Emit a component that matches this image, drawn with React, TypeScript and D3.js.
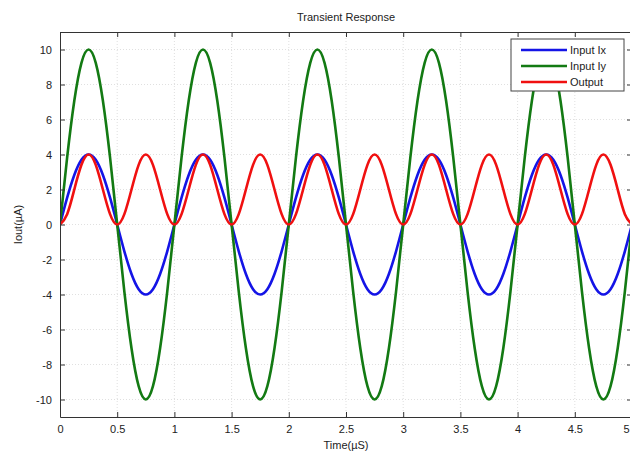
import * as d3 from "d3";
import { useEffect, useRef } from "react";

// samples every 1/16 µs (one period per line)
const inputIx = [
  0, 1.53, 2.83, 3.7, 4, 3.7, 2.83, 1.53, 0, -1.53, -2.83, -3.7, -4, -3.7, -2.83, -1.53,
  0, 1.53, 2.83, 3.7, 4, 3.7, 2.83, 1.53, 0, -1.53, -2.83, -3.7, -4, -3.7, -2.83, -1.53,
  0, 1.53, 2.83, 3.7, 4, 3.7, 2.83, 1.53, 0, -1.53, -2.83, -3.7, -4, -3.7, -2.83, -1.53,
  0, 1.53, 2.83, 3.7, 4, 3.7, 2.83, 1.53, 0, -1.53, -2.83, -3.7, -4, -3.7, -2.83, -1.53,
  0, 1.53, 2.83, 3.7, 4, 3.7, 2.83, 1.53, 0, -1.53, -2.83, -3.7, -4, -3.7, -2.83, -1.53,
  0,
];
const inputIy = [
  0, 3.83, 7.07, 9.24, 10, 9.24, 7.07, 3.83, 0, -3.83, -7.07, -9.24, -10, -9.24, -7.07, -3.83,
  0, 3.83, 7.07, 9.24, 10, 9.24, 7.07, 3.83, 0, -3.83, -7.07, -9.24, -10, -9.24, -7.07, -3.83,
  0, 3.83, 7.07, 9.24, 10, 9.24, 7.07, 3.83, 0, -3.83, -7.07, -9.24, -10, -9.24, -7.07, -3.83,
  0, 3.83, 7.07, 9.24, 10, 9.24, 7.07, 3.83, 0, -3.83, -7.07, -9.24, -10, -9.24, -7.07, -3.83,
  0, 3.83, 7.07, 9.24, 10, 9.24, 7.07, 3.83, 0, -3.83, -7.07, -9.24, -10, -9.24, -7.07, -3.83,
  0,
];
const output = [
  0, 0.59, 2, 3.41, 4, 3.41, 2, 0.59, 0, 0.59, 2, 3.41, 4, 3.41, 2, 0.59,
  0, 0.59, 2, 3.41, 4, 3.41, 2, 0.59, 0, 0.59, 2, 3.41, 4, 3.41, 2, 0.59,
  0, 0.59, 2, 3.41, 4, 3.41, 2, 0.59, 0, 0.59, 2, 3.41, 4, 3.41, 2, 0.59,
  0, 0.59, 2, 3.41, 4, 3.41, 2, 0.59, 0, 0.59, 2, 3.41, 4, 3.41, 2, 0.59,
  0, 0.59, 2, 3.41, 4, 3.41, 2, 0.59, 0, 0.59, 2, 3.41, 4, 3.41, 2, 0.59,
  0,
];
const timeStep = 0.0625;

const xTicks = [0, 0.5, 1, 1.5, 2, 2.5, 3, 3.5, 4, 4.5, 5];
const yTicks = [-10, -8, -6, -4, -2, 0, 2, 4, 6, 8, 10];

const seriesNames = ["Input Ix", "Input Iy", "Output"];
const seriesColors = ["#1414e6", "#137a13", "#f01010"];

const W = 630;
const H = 452;
const margin = { top: 32, right: -2, bottom: 35, left: 60 };
const FONT = "'Liberation Sans', Arial, sans-serif";

export default function App() {
  const ref = useRef<SVGSVGElement>(null);

  useEffect(() => {
    const svg = d3.select(ref.current);
    svg.selectAll("*").remove();

    const x0 = margin.left;
    const x1 = W - margin.right;
    const y0 = margin.top;
    const y1 = H - margin.bottom;

    const x = d3.scaleLinear().domain([0, 5]).range([x0, x1]);
    const y = d3.scaleLinear().domain([-11, 11]).range([y1, y0]);

    svg.append("rect").attr("width", W).attr("height", H).attr("fill", "#fff");

    // grid
    const grid = svg.append("g").attr("stroke", "#d8d8d8").attr("stroke-width", 0.8).attr("stroke-dasharray", "1,2");
    xTicks.slice(1, -1).forEach((t) => {
      grid.append("line").attr("x1", x(t)).attr("x2", x(t)).attr("y1", y0).attr("y2", y1);
    });
    yTicks.forEach((t) => {
      grid.append("line").attr("x1", x0).attr("x2", x1).attr("y1", y(t)).attr("y2", y(t));
    });

    // lines
    const sets = [inputIx, inputIy, output];
    const clip = svg.append("clipPath").attr("id", "plotclip");
    clip.append("rect").attr("x", x0).attr("y", y0).attr("width", x1 - x0).attr("height", y1 - y0);
    const lineGen = d3
      .line<number>()
      .x((_, i) => x(i * timeStep))
      .y((d) => y(d))
      .curve(d3.curveNatural);
    const plot = svg.append("g").attr("clip-path", "url(#plotclip)");
    sets.forEach((data, i) => {
      plot
        .append("path")
        .datum(data)
        .attr("d", lineGen)
        .attr("fill", "none")
        .attr("stroke", seriesColors[i])
        .attr("stroke-width", 2.6)
        .attr("stroke-linejoin", "round");
    });

    // axes box with inward ticks (top/right mirror bottom/left)
    const axisColor = "#333";
    const fmt = (d: d3.NumberValue) => String(d);
    const bottom = svg.append("g").attr("transform", `translate(0,${y1})`)
      .call(d3.axisBottom(x).tickValues(xTicks).tickSizeInner(-5).tickSizeOuter(0).tickPadding(8).tickFormat(fmt));
    const top = svg.append("g").attr("transform", `translate(0,${y0})`)
      .call(d3.axisTop(x).tickValues(xTicks).tickSizeInner(-5).tickSizeOuter(0).tickFormat(() => ""));
    const left = svg.append("g").attr("transform", `translate(${x0},0)`)
      .call(d3.axisLeft(y).tickValues(yTicks).tickSizeInner(-5).tickSizeOuter(0).tickPadding(8).tickFormat(fmt));
    const right = svg.append("g").attr("transform", `translate(${x1},0)`)
      .call(d3.axisRight(y).tickValues(yTicks).tickSizeInner(-5).tickSizeOuter(0).tickFormat(() => ""));
    [bottom, top, left, right].forEach((g) => {
      g.select(".domain").attr("stroke", axisColor).attr("stroke-width", 1);
      g.selectAll(".tick line").attr("stroke", axisColor);
      g.selectAll("text").attr("font-family", FONT).attr("font-size", 11).attr("fill", "#222");
    });
    // the last x label sits on the page edge; pull it in so it stays visible
    bottom.selectAll<SVGTextElement, number>(".tick text")
      .filter((d) => d === 5)
      .attr("text-anchor", "end")
      .attr("x", W - 1 - x(5));

    // title and labels
    svg.append("text").attr("x", (x0 + x1) / 2).attr("y", 21).attr("text-anchor", "middle")
      .attr("font-family", FONT).attr("font-size", 11).attr("fill", "#222").text("Transient Response");
    svg.append("text").attr("x", (x0 + x1) / 2).attr("y", 449).attr("text-anchor", "middle")
      .attr("font-family", FONT).attr("font-size", 11).attr("fill", "#222").text("Time(µS)");
    svg.append("text").attr("transform", `translate(22,${(y0 + y1) / 2}) rotate(-90)`).attr("text-anchor", "middle")
      .attr("font-family", FONT).attr("font-size", 11).attr("fill", "#222").text("Iout(µA)");

    // legend
    const lg = svg.append("g").attr("transform", "translate(511,39)");
    lg.append("rect").attr("width", 113).attr("height", 52).attr("fill", "#fff").attr("stroke", "#444").attr("stroke-width", 1);
    seriesNames.forEach((name, i) => {
      const yy = 11 + i * 16;
      lg.append("line").attr("x1", 10).attr("x2", 56).attr("y1", yy).attr("y2", yy)
        .attr("stroke", seriesColors[i]).attr("stroke-width", 2.6);
      lg.append("text").attr("x", 59).attr("y", yy + 4).attr("font-family", FONT).attr("font-size", 11)
        .attr("fill", "#222").text(name);
    });
  }, []);

  return (
    <svg
      ref={ref}
      width={W}
      height={H}
      style={{ position: "absolute", left: 0, top: 0, display: "block" }}
    />
  );
}
